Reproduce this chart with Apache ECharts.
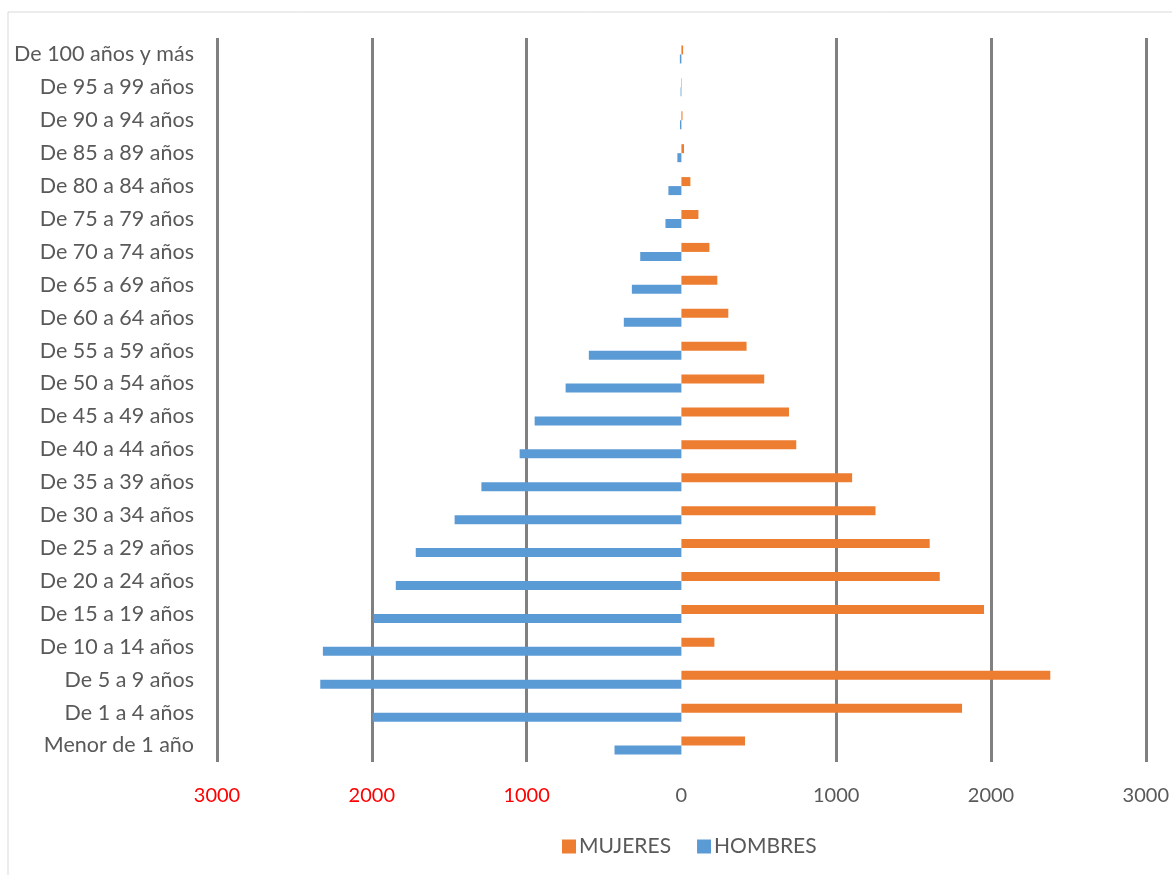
<!DOCTYPE html>
<html><head><meta charset="utf-8">
<script src="https://cdn.jsdelivr.net/npm/echarts@6/dist/echarts.min.js"></script>
<style>html,body{margin:0;padding:0;background:#fff}#c{width:1172px;height:875px}</style>
</head><body><div id="c"></div>
<script>
const ageGroups = ["Menor de 1 año","De 1 a 4 años","De 5 a 9 años","De 10 a 14 años","De 15 a 19 años","De 20 a 24 años","De 25 a 29 años","De 30 a 34 años","De 35 a 39 años","De 40 a 44 años","De 45 a 49 años","De 50 a 54 años","De 55 a 59 años","De 60 a 64 años","De 65 a 69 años","De 70 a 74 años","De 75 a 79 años","De 80 a 84 años","De 85 a 89 años","De 90 a 94 años","De 95 a 99 años","De 100 años y más"];
const mujeres = [411,1813,2383,213,1955,1669,1604,1254,1103,742,695,535,421,303,232,181,110,58,17,7,3,11];
const hombres = [432,1994,2333,2316,1989,1845,1716,1465,1292,1045,948,748,598,372,320,266,103,84,26,9,5,10];
const xTicks = [-3000,-2000,-1000,0,1000,2000,3000];
</script>
<script>
const chart = echarts.init(document.getElementById('c'));
const font = 'Lato, "Open Sans", sans-serif';
chart.setOption({
  animation:false,
  graphic:[{type:'rect',shape:{x:8,y:12,width:1180,height:880},style:{fill:'none',stroke:'#d9d9d9',lineWidth:1}}],
  grid:{left:217,right:25,top:38,bottom:113},
  legend:{data:['MUJERES','HOMBRES'],top:831,left:557,itemWidth:14,itemHeight:14,itemGap:26,icon:'rect',
    textStyle:{color:'#595959',fontSize:21,fontFamily:font,padding:[0,0,0,-2]}},
  xAxis:{type:'value',min:xTicks[0],max:xTicks[xTicks.length-1],interval:1000,
    axisLine:{show:false},axisTick:{show:false},
    axisLabel:{margin:24,fontSize:20,fontFamily:font,formatter:v=>String(Math.abs(v)),
      color:v=>(Number(v)<0?'#ff0000':'#595959')},
    splitLine:{show:true,lineStyle:{color:['#808080','#808080','#808080','rgba(0,0,0,0)','#808080','#808080','#808080'],width:3}}},
  yAxis:{type:'category',data:ageGroups,axisLine:{show:false},axisTick:{show:false},
    axisLabel:{margin:23,fontSize:21.5,fontFamily:font,color:'#595959'}},
  series:[
    {name:'MUJERES',type:'bar',data:mujeres,barWidth:9,barGap:'0%',itemStyle:{color:'#ed7d31'}},
    {name:'HOMBRES',type:'bar',data:hombres.map(v=>-v),barWidth:9,barGap:'0%',itemStyle:{color:'#5b9bd5'}}
  ]
});
</script>
</body></html>
